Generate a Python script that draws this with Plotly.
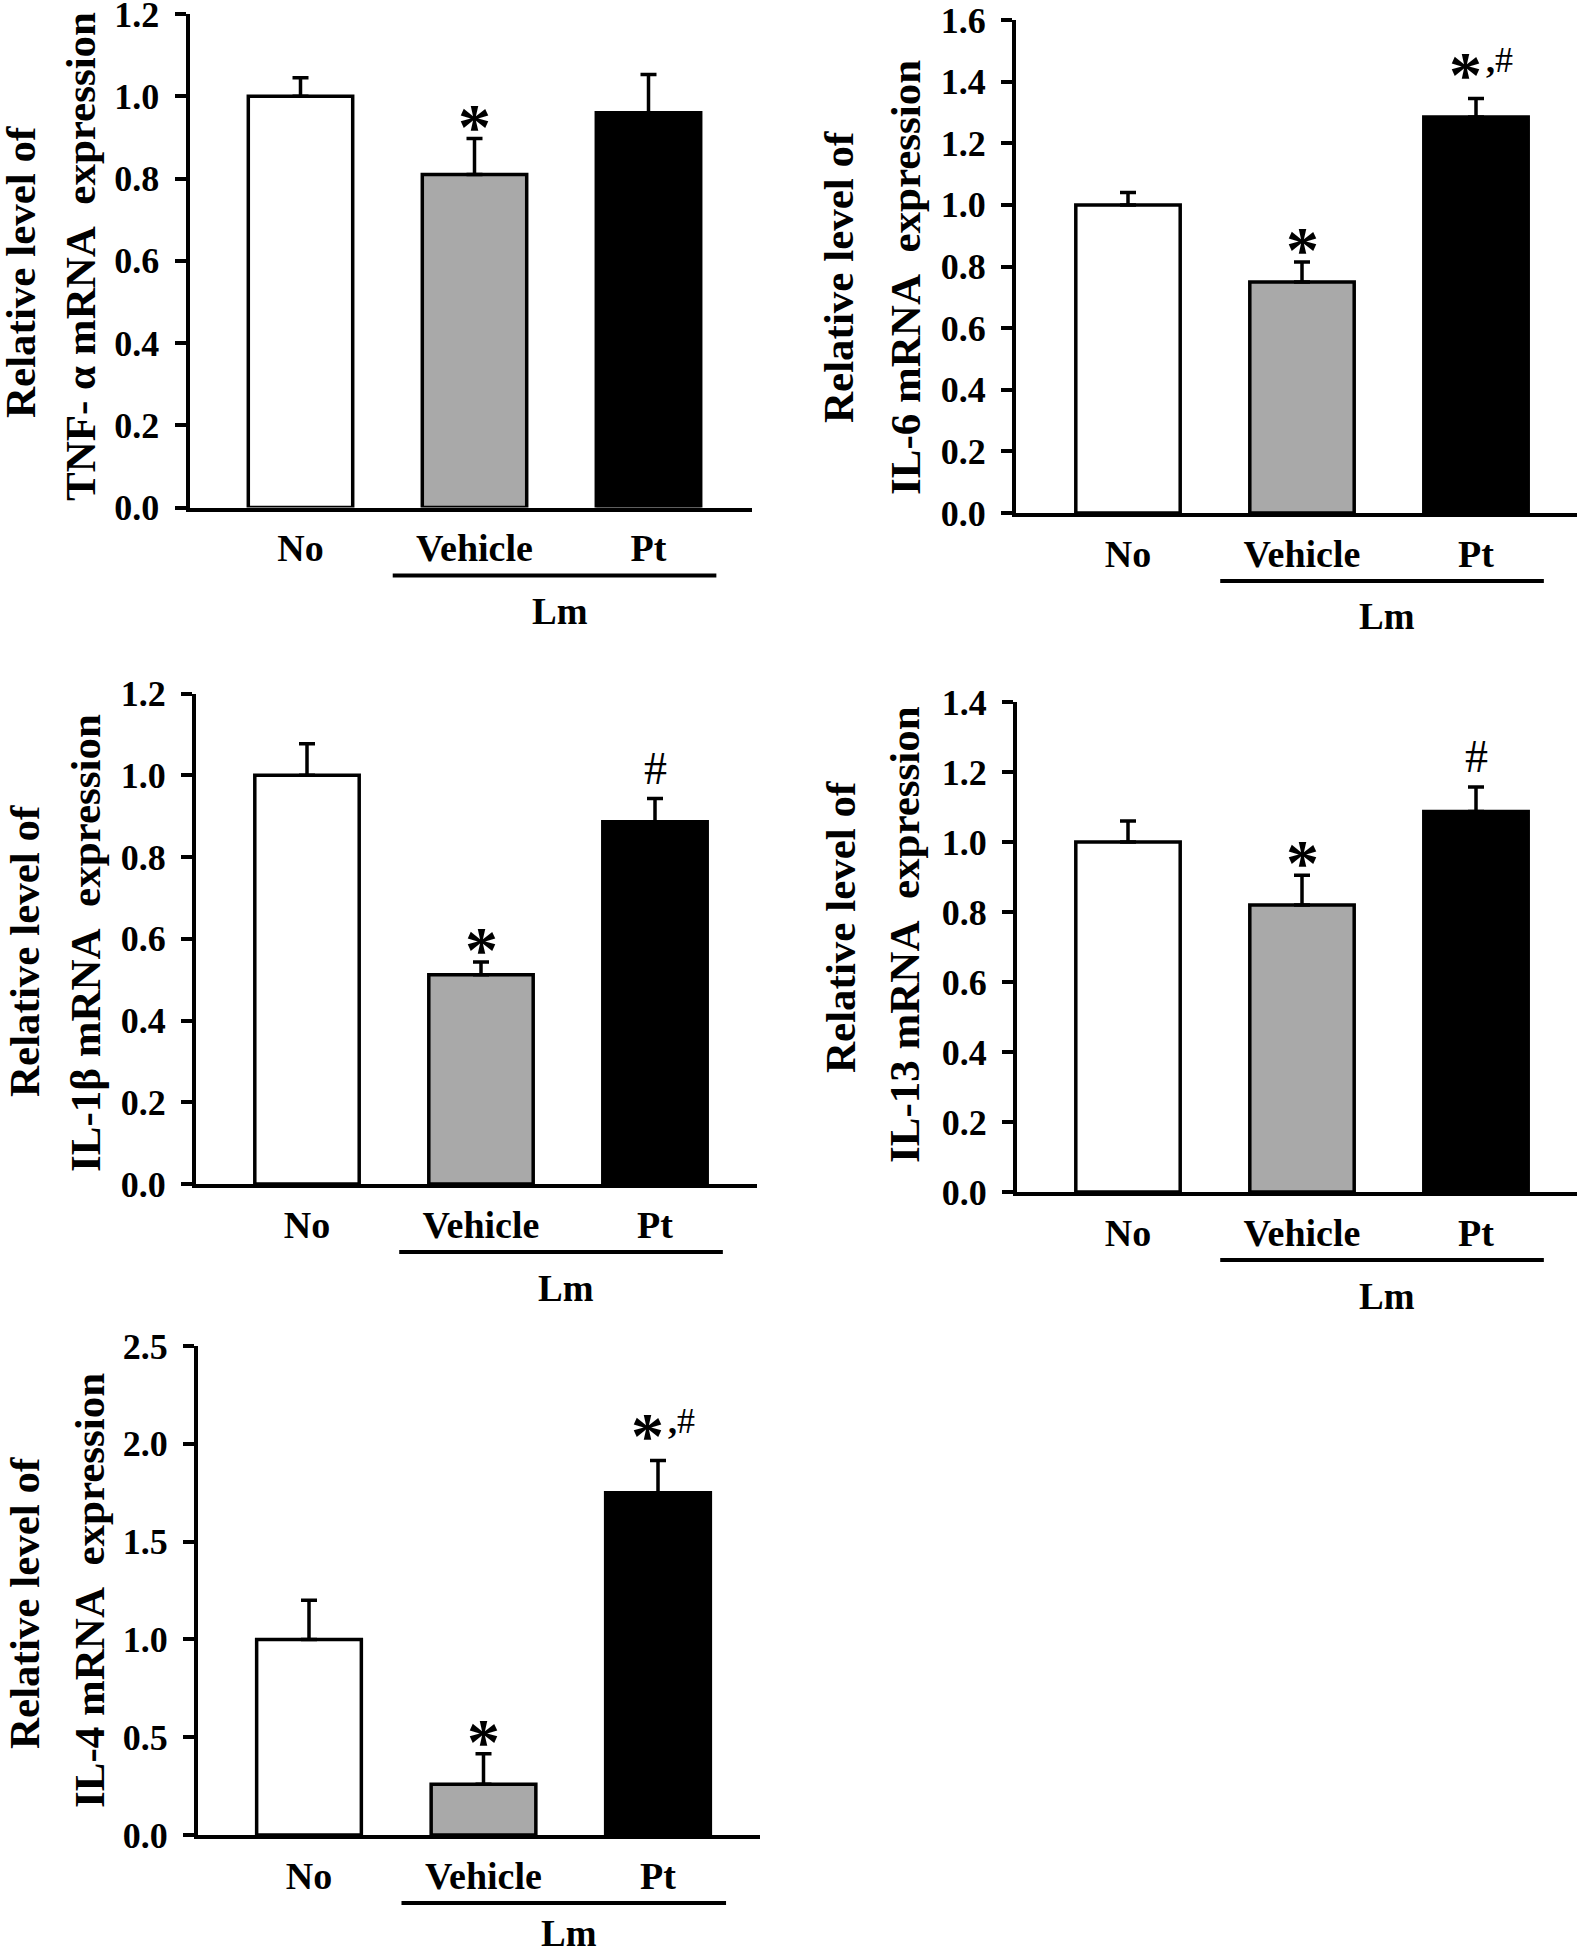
import plotly.graph_objects as go

W, H = 1594, 1954

categories = ["No", "Vehicle", "Pt"]
colors = ["#ffffff", "#a9a9a9", "#000000"]

tnf_mean = [1.00, 0.81, 0.96]
tnf_err = [0.045, 0.087, 0.093]
tnf_sig = ["", "*", ""]

il6_mean = [1.00, 0.75, 1.285]
il6_err = [0.04, 0.065, 0.06]
il6_sig = ["", "*", "*,#"]

il1b_mean = [1.00, 0.512, 0.886]
il1b_err = [0.077, 0.031, 0.057]
il1b_sig = ["", "*", "#"]

il13_mean = [1.00, 0.82, 1.087]
il13_err = [0.06, 0.085, 0.07]
il13_sig = ["", "*", "#"]

il4_mean = [1.00, 0.26, 1.75]
il4_err = [0.20, 0.155, 0.165]
il4_sig = ["", "*", "*,#"]

ytitles = [
    ("Relative level of", "TNF- \u03b1 mRNA\u00a0 expression"),
    ("Relative level of", "IL-6 mRNA\u00a0 expression"),
    ("Relative level of", "IL-1\u03b2 mRNA\u00a0 expression"),
    ("Relative level of", "IL-13 mRNA\u00a0 expression"),
    ("Relative level of", "IL-4 mRNA\u00a0 expression"),
]
ymax = [1.2, 1.6, 1.2, 1.4, 2.5]
dticks = [0.2, 0.2, 0.2, 0.2, 0.5]
means = [tnf_mean, il6_mean, il1b_mean, il13_mean, il4_mean]
errs = [tnf_err, il6_err, il1b_err, il13_err, il4_err]
sigs = [tnf_sig, il6_sig, il1b_sig, il13_sig, il4_sig]

# pixel geometry: axis left, axis right, y top, y zero, first bar center, spacing
geom = [
    (189.5, 752, 14, 507.5, 300.5, 174),
    (1016, 1577, 20, 513, 1128, 174),
    (196, 757, 693.5, 1184, 307, 174),
    (1017, 1577, 702, 1192, 1128, 174),
    (198, 760, 1346, 1835, 309, 174.5),
]
# y-title line centres (x1, y1, x2, y2) in pixels
title_pos = [
    (21, 272, 81, 257),
    (838, 277, 905, 278),
    (24, 951, 85, 943),
    (840, 927, 904, 935),
    (24, 1603, 89, 1591),
]
lm_offset = [104, 104, 104, 104, 98]

FONT = "Liberation Serif"

def px(x):
    return x / W

def py(y):
    return 1 - y / H

fig = go.Figure()
layout = dict(
    width=W, height=H, margin=dict(l=0, r=0, t=0, b=0, autoexpand=False),
    paper_bgcolor="white", plot_bgcolor="white", showlegend=False,
    font=dict(family=FONT, color="black"),
)
annotations = []
shapes = []

for i in range(5):
    n = "" if i == 0 else str(i + 1)
    xa, ya = "x" + n, "y" + n
    left, right, top, zero, c0, sp = geom[i]
    fig.add_trace(go.Bar(
        x=[0, 1, 2], y=means[i], width=0.6,
        marker=dict(color=colors, line=dict(color="black", width=3.5)),
        error_y=dict(type="data", symmetric=False, array=errs[i],
                     arrayminus=[0, 0, 0], thickness=3.5, width=8, color="black"),
        xaxis=xa, yaxis=ya, hoverinfo="skip",
    ))
    layout["xaxis" + n] = dict(
        domain=[px(left), px(right)], anchor=ya, automargin=False,
        range=[(left - c0) / sp, (right - c0) / sp],
        tickmode="array", tickvals=[0, 1, 2], ticktext=categories,
        ticks="outside", ticklen=4, tickcolor="rgba(0,0,0,0)",
        showline=True, linecolor="black", linewidth=4,
        showgrid=False, zeroline=False, ticklabeloverflow="allow",
        tickfont=dict(family=FONT, size=38, color="black", weight="bold"),
    )
    layout["yaxis" + n] = dict(
        domain=[py(zero), py(top)], anchor=xa, automargin=False,
        range=[0, ymax[i]], dtick=dticks[i], tick0=0, tickformat=".1f",
        ticks="outside", ticklen=11, tickwidth=3.5, tickcolor="black",
        showline=True, linecolor="black", linewidth=4,
        showgrid=False, zeroline=False, ticklabeloverflow="allow",
        ticklabelstandoff=8,
        tickfont=dict(family=FONT, size=36, color="black", weight="bold"),
    )
    # y-axis title lines
    x1, y1, x2, y2 = title_pos[i]
    for (tx, ty, txt) in [(x1, y1, ytitles[i][0]), (x2, y2, ytitles[i][1])]:
        annotations.append(dict(
            xref="paper", yref="paper", x=px(tx), y=py(ty),
            xanchor="center", yanchor="middle", textangle=-90,
            text="<b>" + txt + "</b>", showarrow=False,
            font=dict(family=FONT, size=43, color="black"),
        ))
    # Lm group underline and label
    shapes.append(dict(
        type="line", xref=xa, yref="paper",
        x0=0.53, x1=2.39, y0=py(zero + 68), y1=py(zero + 68),
        line=dict(color="black", width=4),
    ))
    annotations.append(dict(
        xref=xa, yref="paper", x=1.49, y=py(zero + lm_offset[i]),
        xanchor="center", yanchor="middle", text="<b>Lm</b>",
        showarrow=False, font=dict(family=FONT, size=37, color="black"),
    ))
    # significance marks
    for k in range(3):
        s = sigs[i][k]
        if not s:
            continue
        top_val = means[i][k] + errs[i][k]
        if s == "*":
            annotations.append(dict(
                xref=xa, yref=ya, x=k, y=top_val, xanchor="center",
                yanchor="bottom", text="<b>*</b>", showarrow=False, yshift=-26,
                font=dict(family=FONT, size=66, color="black")))
        elif s == "#":
            annotations.append(dict(
                xref=xa, yref=ya, x=k, y=top_val, xanchor="center",
                yanchor="bottom", text="#", showarrow=False, yshift=3,
                font=dict(family=FONT, size=46, color="black")))
        else:
            annotations.append(dict(
                xref=xa, yref=ya, x=k, y=top_val, xanchor="center",
                yanchor="bottom", text="<b>*</b>", showarrow=False,
                xshift=-11, yshift=-14,
                font=dict(family=FONT, size=66, color="black")))
            annotations.append(dict(
                xref=xa, yref=ya, x=k, y=top_val, xanchor="left",
                yanchor="bottom", text="<b>,</b>#", showarrow=False,
                xshift=8, yshift=17,
                font=dict(family=FONT, size=36, color="black")))

layout["annotations"] = annotations
layout["shapes"] = shapes
fig.update_layout(**layout)
# remove the browser's default 8px body margin so the figure starts at the page corner
fig.write_html("out.html", config={"displayModeBar": False},
               post_script="document.body.style.margin='0';")
